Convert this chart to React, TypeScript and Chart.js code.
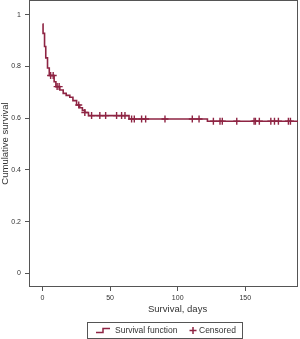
import React, { useEffect, useRef } from "react";
import { Chart, registerables } from "chart.js";

Chart.register(...registerables);

// ---- data ----
const survTimes = [0, 0.4, 1.5, 2.4, 3.7, 5, 8.6, 9.9, 12.8, 15.3, 17.5, 20.2, 22.5, 25.2, 27.5, 29.5, 31.3, 34, 64, 122];
const survValues = [0.964, 0.928, 0.877, 0.833, 0.794, 0.765, 0.741, 0.722, 0.709, 0.696, 0.688, 0.681, 0.668, 0.651, 0.64, 0.63, 0.622, 0.61, 0.597, 0.588];
const followUpEnd = 189;
const censoredTimes = [6, 7.9, 10.8, 12.3, 26.8, 31.3, 36.3, 42.4, 46.7, 54.8, 58.5, 61, 65.9, 67.9, 73.3, 76.3, 90.6, 110.8, 115.8, 126.4, 131.3, 133, 143.7, 156.5, 157.5, 160.4, 168.9, 171.6, 174.5, 181.9, 183.4];
const xTicks = [0, 50, 100, 150];
const xTickLabels = ["0", "50", "100", "150"];
const yTicks = [0, 0.2, 0.4, 0.6, 0.8, 1];
const yTickLabels = ["0", "0.2", "0.4", "0.6", "0.8", "1"];
const xTitle = "Survival, days";
const yTitle = "Cumulative survival";
const legendLabels = ["Survival function", "Censored"];

// ---- style ----
const CURVE = "#8e2443";
const FRAME = "#555555";
const TEXT = "#333333";
const FONT = "'Liberation Sans', Arial, Helvetica, sans-serif";

function survivalAt(t: number): number {
  let v = survValues[0];
  for (let i = 0; i < survTimes.length; i++) {
    if (survTimes[i] <= t) v = survValues[i];
  }
  return v;
}

const decorPlugin = {
  id: "decor",
  beforeDatasetsDraw(chart: any) {
    const { ctx, chartArea: a } = chart;
    ctx.save();
    ctx.strokeStyle = FRAME;
    ctx.lineWidth = 1;
    ctx.strokeRect(a.left + 0.5, a.top + 0.5, a.right - a.left - 1, a.bottom - a.top - 1);
    ctx.restore();
  },
  afterDraw(chart: any) {
    const { ctx } = chart;
    ctx.save();
    // x-axis title
    ctx.fillStyle = TEXT;
    ctx.font = `9.5px ${FONT}`;
    ctx.textAlign = "left";
    ctx.textBaseline = "middle";
    ctx.fillText(xTitle, 148, 309.5);

    // legend box
    ctx.strokeStyle = FRAME;
    ctx.lineWidth = 1;
    ctx.strokeRect(87.5, 322.5, 155, 16);

    // step icon
    ctx.strokeStyle = CURVE;
    ctx.lineWidth = 1.5;
    ctx.beginPath();
    ctx.moveTo(96, 332.5);
    ctx.lineTo(103, 332.5);
    ctx.lineTo(103, 328.5);
    ctx.lineTo(110, 328.5);
    ctx.stroke();

    ctx.fillStyle = TEXT;
    ctx.font = `8.5px ${FONT}`;
    ctx.textBaseline = "middle";
    ctx.fillText(legendLabels[0], 115, 330.5);

    // cross icon
    ctx.strokeStyle = CURVE;
    ctx.lineWidth = 1.5;
    ctx.beginPath();
    ctx.moveTo(193, 327);
    ctx.lineTo(193, 334);
    ctx.moveTo(189.5, 330.5);
    ctx.lineTo(196.5, 330.5);
    ctx.stroke();

    ctx.fillText(legendLabels[1], 199, 330.5);
    ctx.restore();
  },
};

export default function App() {
  const canvasRef = useRef<HTMLCanvasElement | null>(null);

  useEffect(() => {
    document.body.style.margin = "0";
    const canvas = canvasRef.current;
    if (!canvas) return;

    const curveData = survTimes.map((t, i) => ({ x: t, y: survValues[i] }));
    curveData.push({ x: followUpEnd, y: survValues[survValues.length - 1] });
    const censorData = censoredTimes.map((t) => ({ x: t, y: survivalAt(t) }));

    const chart = new Chart(canvas, {
      type: "scatter",
      data: {
        datasets: [
          {
            label: legendLabels[0],
            data: curveData,
            showLine: true,
            stepped: true,
            borderColor: CURVE,
            borderWidth: 1.6,
            pointRadius: 0,
            fill: false,
          } as any,
          {
            label: legendLabels[1],
            data: censorData,
            showLine: false,
            pointStyle: "cross",
            pointRadius: 3.5,
            pointBorderWidth: 1.4,
            pointBorderColor: CURVE,
            pointBackgroundColor: CURVE,
            borderColor: CURVE,
          } as any,
        ],
      },
      options: {
        responsive: false,
        devicePixelRatio: 1,
        animation: false,
        layout: { autoPadding: false, padding: { left: 0, right: 2, top: 0, bottom: 0 } },
        plugins: {
          legend: { display: false },
          tooltip: { enabled: false },
        },
        scales: {
          x: {
            type: "linear",
            min: -10,
            max: 189,
            afterFit: (scale: any) => {
              scale.height = 52;
              scale.paddingLeft = 0;
              scale.paddingRight = 0;
            },
            afterBuildTicks: (scale: any) => {
              scale.ticks = xTicks.map((v) => ({ value: v }));
            },
            border: { display: false },
            grid: {
              drawOnChartArea: false,
              drawTicks: true,
              tickLength: 4,
              color: FRAME,
            },
            ticks: {
              padding: 3,
              color: TEXT,
              font: { family: FONT, size: 7 },
              maxRotation: 0,
              callback: (v: any) => {
                const i = xTicks.indexOf(Number(v));
                return i >= 0 ? xTickLabels[i] : "";
              },
            },
          },
          y: {
            type: "linear",
            min: -0.053,
            max: 1.057,
            afterFit: (scale: any) => {
              scale.width = 29;
              scale.paddingTop = 0;
              scale.paddingBottom = 0;
            },
            afterBuildTicks: (scale: any) => {
              scale.ticks = yTicks.map((v) => ({ value: v }));
            },
            border: { display: false },
            grid: {
              drawOnChartArea: false,
              drawTicks: true,
              tickLength: 4,
              color: FRAME,
            },
            title: {
              display: true,
              text: yTitle,
              color: TEXT,
              font: { family: FONT, size: 9.5 },
              padding: 0,
            },
            ticks: {
              padding: 4,
              color: TEXT,
              font: { family: FONT, size: 7 },
              callback: (v: any) => {
                const i = yTicks.indexOf(Number(v));
                return i >= 0 ? yTickLabels[i] : "";
              },
            },
          },
        },
      },
      plugins: [decorPlugin],
    });

    return () => chart.destroy();
  }, []);

  return <canvas ref={canvasRef} width={300} height={339} style={{ display: "block" }} />;
}
